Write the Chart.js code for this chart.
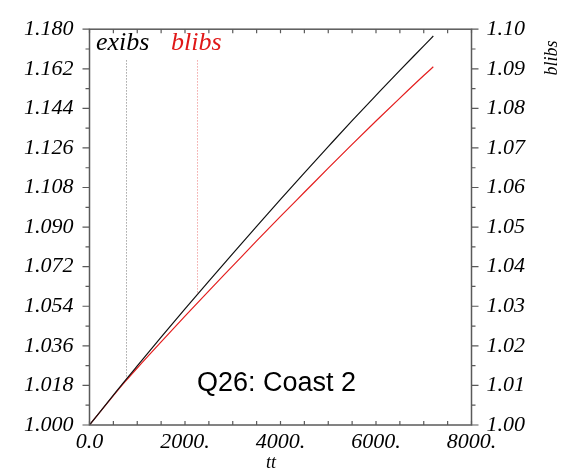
<!DOCTYPE html>
<html>
<head>
<meta charset="utf-8">
<script src="https://cdn.jsdelivr.net/npm/chart.js@4.4.1/dist/chart.umd.min.js"></script>
<style>
  html, body { margin: 0; padding: 0; background: #ffffff; }
  #wrap { width: 564px; height: 474px; position: relative; }
</style>
</head>
<body>
<div id="wrap"><canvas id="c" width="564" height="474"></canvas></div>
<script>
// Time samples (tt) and the two series
const tt     = [0, 500, 750, 1000, 1500, 2000, 2500, 3000, 3500, 4000, 4500, 5000, 5500, 6000, 6500, 7000, 7200];
const exibs  = [1.0000, 1.01355, 1.0203, 1.0269, 1.0400, 1.0528, 1.0654, 1.0779, 1.0903, 1.1026, 1.1147, 1.1266, 1.1384, 1.1499, 1.1613, 1.1724, 1.1769];
const blibs  = [1.0000, 1.0074, 1.0110, 1.0144, 1.0210, 1.0275, 1.0339, 1.0402, 1.0465, 1.0527, 1.0588, 1.0649, 1.0709, 1.0768, 1.0826, 1.0883, 1.0905];

// Tick values
const xTicks     = [0, 2000, 4000, 6000, 8000];
const leftTicks  = [1.000, 1.018, 1.036, 1.054, 1.072, 1.090, 1.108, 1.126, 1.144, 1.162, 1.180];
const rightTicks = [1.00, 1.01, 1.02, 1.03, 1.04, 1.05, 1.06, 1.07, 1.08, 1.09, 1.10];

// Marker positions (tt) for the series labels
const markExibs = 760;
const markBlibs = 2260;
const markTop   = 1.1658;

const SERIF = '"Liberation Serif", "Times New Roman", serif';
const SANS  = '"Liberation Sans", Arial, sans-serif';
const FRAME = '#5a5a5a';

function interp(xs, ys, x) {
  for (let i = 1; i < xs.length; i++) {
    if (x <= xs[i]) {
      const t = (x - xs[i - 1]) / (xs[i] - xs[i - 1]);
      return ys[i - 1] + t * (ys[i] - ys[i - 1]);
    }
  }
  return ys[ys.length - 1];
}

const frameAndLabels = {
  id: 'frameAndLabels',
  beforeDatasetsDraw(chart) {
    const { ctx, scales } = chart;
    const sx = scales.x, sy = scales.y;
    ctx.save();
    // dotted markers from the label down to the exibs curve
    ctx.lineWidth = 1;
    ctx.setLineDash([1, 2]);
    [[markExibs, '#777777'], [markBlibs, '#ec7a7a']].forEach(([m, col]) => {
      const px = Math.round(sx.getPixelForValue(m)) + 0.5;
      ctx.strokeStyle = col;
      ctx.beginPath();
      ctx.moveTo(px, sy.getPixelForValue(markTop));
      ctx.lineTo(px, sy.getPixelForValue(interp(tt, exibs, m)));
      ctx.stroke();
    });
    ctx.restore();
  },
  afterDraw(chart) {
    const { ctx, chartArea: a, scales } = chart;
    const sx = scales.x, sy = scales.y, sr = scales.y1;
    ctx.save();
    ctx.strokeStyle = FRAME;
    ctx.lineWidth = 1.5;
    ctx.strokeRect(a.left, a.top, a.right - a.left, a.bottom - a.top);

    ctx.lineWidth = 1.2;
    ctx.beginPath();
    // x ticks every 500, inside on bottom and top
    for (let v = 0; v <= 8000; v += 500) {
      const px = sx.getPixelForValue(v);
      ctx.moveTo(px, a.bottom); ctx.lineTo(px, a.bottom - 4);
      ctx.moveTo(px, a.top);    ctx.lineTo(px, a.top + 4);
    }
    // left ticks, outward
    for (let i = 0; i <= 20; i++) {
      const py = sy.getPixelForValue(1 + i * 0.009);
      const len = i % 2 === 0 ? 7 : 4;
      ctx.moveTo(a.left, py); ctx.lineTo(a.left - len, py);
    }
    // right ticks, outward
    for (let i = 0; i <= 20; i++) {
      const py = sr.getPixelForValue(1 + i * 0.005);
      const len = i % 2 === 0 ? 7 : 4;
      ctx.moveTo(a.right, py); ctx.lineTo(a.right + len, py);
    }
    ctx.stroke();

    // series names
    ctx.font = 'italic 26px ' + SERIF;
    ctx.textBaseline = 'alphabetic';
    ctx.textAlign = 'left';
    ctx.fillStyle = '#000000';
    ctx.fillText('exibs', 96, 50);
    ctx.fillStyle = '#e01818';
    ctx.fillText('blibs', 171, 50);

    // panel title
    ctx.fillStyle = '#000000';
    ctx.font = '27px ' + SANS;
    ctx.textBaseline = 'middle';
    ctx.fillText('Q26: Coast 2', 197, 384);

    // axis titles
    ctx.font = 'italic 18px ' + SERIF;
    ctx.textAlign = 'center';
    ctx.fillText('tt', sx.getPixelForValue(3800), 463);
    ctx.translate(552, 58);
    ctx.rotate(-Math.PI / 2);
    ctx.fillText('blibs', 0, 0);
    ctx.restore();
  }
};

const tickFont = { family: SERIF, size: 22, style: 'italic' };

new Chart(document.getElementById('c'), {
  type: 'line',
  data: {
    labels: tt,
    datasets: [
      {
        label: 'exibs',
        data: tt.map((t, i) => ({ x: t, y: exibs[i] })),
        yAxisID: 'y',
        borderColor: '#111111',
        borderWidth: 1.2,
        pointRadius: 0,
        cubicInterpolationMode: 'monotone',
        fill: false
      },
      {
        label: 'blibs',
        data: tt.map((t, i) => ({ x: t, y: blibs[i] })),
        yAxisID: 'y1',
        borderColor: '#e41e1e',
        borderWidth: 1.2,
        pointRadius: 0,
        cubicInterpolationMode: 'monotone',
        fill: false
      }
    ]
  },
  options: {
    responsive: false,
    animation: false,
    devicePixelRatio: 1,
    layout: { padding: { top: 18, left: 0, right: 0, bottom: 0 } },
    plugins: { legend: { display: false }, tooltip: { enabled: false } },
    scales: {
      x: {
        type: 'linear',
        min: 0, max: 8000,
        grid: { display: false, drawTicks: false },
        border: { display: false },
        afterBuildTicks: s => { s.ticks = xTicks.map(v => ({ value: v })); },
        afterFit: s => { s.height = 49; },
        ticks: {
          font: tickFont, color: '#000000', padding: 4, maxRotation: 0,
          callback: v => v === 0 ? '0.0' : v + '.'
        }
      },
      y: {
        position: 'left',
        min: 1.0, max: 1.18,
        grid: { display: false, drawTicks: false },
        border: { display: false },
        afterBuildTicks: s => { s.ticks = leftTicks.map(v => ({ value: v })); },
        afterFit: s => { s.width = 89.5; },
        ticks: { font: tickFont, color: '#000000', padding: 16, callback: v => v.toFixed(3) }
      },
      y1: {
        position: 'right',
        min: 1.0, max: 1.10,
        grid: { display: false, drawTicks: false },
        border: { display: false },
        afterBuildTicks: s => { s.ticks = rightTicks.map(v => ({ value: v })); },
        afterFit: s => { s.width = 92.5; },
        ticks: { font: tickFont, color: '#000000', padding: 15, callback: v => v.toFixed(2) }
      }
    }
  },
  plugins: [frameAndLabels]
});
</script>
</body>
</html>
